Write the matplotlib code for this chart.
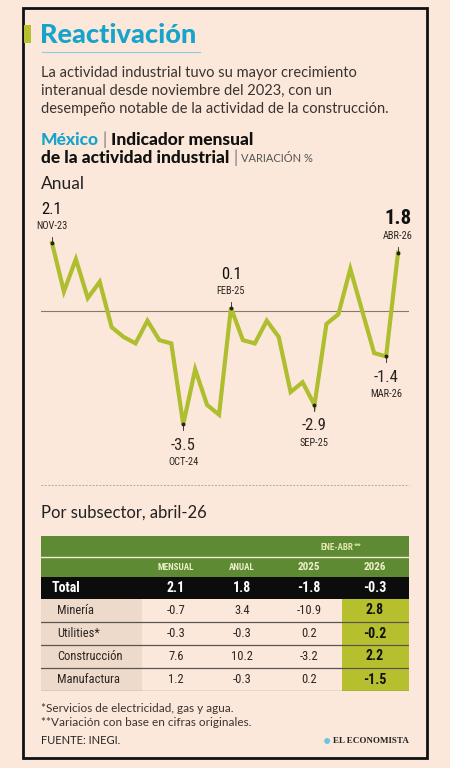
import matplotlib
matplotlib.use('Agg')
import matplotlib.pyplot as plt
import matplotlib.font_manager as fm
from matplotlib.patches import Rectangle, Ellipse
from matplotlib.lines import Line2D

# datos: variación anual, nov-23 a abr-26
meses = ['NOV-23', 'DIC-23',
         'ENE-24', 'FEB-24', 'MAR-24', 'ABR-24', 'MAY-24', 'JUN-24',
         'JUL-24', 'AGO-24', 'SEP-24', 'OCT-24', 'NOV-24', 'DIC-24',
         'ENE-25', 'FEB-25', 'MAR-25', 'ABR-25', 'MAY-25', 'JUN-25',
         'JUL-25', 'AGO-25', 'SEP-25', 'OCT-25', 'NOV-25', 'DIC-25',
         'ENE-26', 'FEB-26', 'MAR-26', 'ABR-26']
anual = [2.1, 0.6,
         1.6, 0.4, 0.9, -0.5, -0.8, -1.0, -0.3, -0.9, -1.0, -3.5, -1.8, -2.9,
         -3.2, 0.1, -0.9, -1.0, -0.3, -0.8, -2.5, -2.2, -2.9, -0.4, -0.1, 1.3,
         0.0, -1.3, -1.4, 1.8]
# etiquetas: (mes, arriba/abajo)
etiquetas = [('NOV-23', 'up'), ('FEB-25', 'up'), ('ABR-26', 'up'),
             ('OCT-24', 'down'), ('SEP-25', 'down'), ('MAR-26', 'down')]

sectores = ['Minería', 'Utilities*', 'Construcción', 'Manufactura']
col_mensual = [-0.7, -0.3, 7.6, 1.2]
col_anual = [3.4, -0.3, 10.2, -0.3]
col_2025 = [-10.9, 0.2, -3.2, 0.2]
col_2026 = [2.8, -0.2, 2.2, -1.5]
total = [2.1, 1.8, -1.8, -0.3]
encabezados = ['MENSUAL', 'ANUAL', '2025', '2026']

BG = '#FBE8DA'
VERDE_LINEA = '#AFBE2E'
VERDE_OSC = '#5E8A33'
VERDE_CLARO = '#B6C02F'
AZUL = '#17A3CA'
TXT = '#2B2522'

installed = {f.name for f in fm.fontManager.ttflist}
body = 'Lato' if 'Lato' in installed else 'DejaVu Sans'
narrow = next((n for n in ['Roboto Condensed', 'Liberation Sans Narrow',
                           'Open Sans Condensed', 'Noto Sans Condensed']
               if n in installed), 'Roboto')
NAR = dict(family=narrow, stretch='condensed')

W, H = 450, 768
fig = plt.figure(figsize=(W / 100, H / 100), dpi=100)
fig.patch.set_facecolor(BG)


def fx(x):
    return x / W


def fy(y):
    return 1 - y / H


def ftext(x, y, s, **kw):
    kw.setdefault('va', 'center')
    kw.setdefault('color', TXT)
    return fig.text(fx(x), fy(y), s, **kw)


# marco
fig.patches.append(Rectangle((fx(23), fy(758)), fx(404), 750 / H, transform=fig.transFigure,
                             fill=False, edgecolor='#111111', lw=2))
fig.patches.append(Rectangle((fx(24), fy(43)), fx(7), 18 / H, transform=fig.transFigure,
                             facecolor=VERDE_CLARO, edgecolor='none'))

# titulos
ftext(40, 35, 'Reactivación', family=body, weight='black', fontsize=19.5, color=AZUL)
fig.lines.append(Line2D([fx(42), fx(200)], [fy(52), fy(52)], transform=fig.transFigure,
                        color='#8CCBE0', lw=0.8))
sub = ['La actividad industrial tuvo su mayor crecimiento',
       'interanual desde noviembre del 2023, con un',
       'desempeño notable de la actividad de la construcción.']
for i, s in enumerate(sub):
    ftext(41, 73 + i * 18, s, family=body, fontsize=10.5, color='#3A3330')

t = ftext(41, 140, 'México', family=body, weight='black', fontsize=12.5, color=AZUL)
fig.canvas.draw()
r = fig.canvas.get_renderer()
bb = t.get_window_extent(r)
ftext(bb.x1 + 4, 140, '|', family=body, fontsize=12, color='#777777')
ftext(bb.x1 + 12, 140, 'Indicador mensual', family=body, weight='black', fontsize=12.5,
      color='#111111')
t2 = ftext(41, 158, 'de la actividad industrial', family=body, weight='black', fontsize=12.5,
           color='#111111')
bb2 = t2.get_window_extent(r)
ftext(bb2.x1 + 4, 158, '|', family=body, fontsize=12, color='#777777')
ftext(bb2.x1 + 12, 159, 'VARIACIÓN %', family=body, fontsize=8, color='#555555')
ftext(41, 184, 'Anual', family=body, fontsize=12.5, color='#222222')

# grafica de linea
ax = fig.add_axes([fx(41), fy(450), fx(409) - fx(41), (450 - 195) / H])
ax.set_facecolor('none')
x = list(range(len(anual)))
ax.plot(x, anual, color=VERDE_LINEA, lw=3, solid_joinstyle='miter', zorder=3)
ax.axhline(0, color='#8B7866', lw=0.8, zorder=2)
ax.set_xlim(-0.92, 29.92)
ax.set_ylim(-4.29, 3.58)
ax.axis('off')

for mes, pos in etiquetas:
    i = meses.index(mes)
    v = anual[i]
    bold = mes == 'ABR-26'
    if pos == 'up':
        ax.plot([i, i], [v, v + 6 / 32.4], color='#222222', lw=0.6, zorder=4)
        ax.annotate(mes, (i, v), xytext=(0, 17), textcoords='offset pixels',
                    ha='center', va='center', fontsize=7.5, color=TXT, **NAR)
        ax.annotate(f'{v:.1f}', (i, v), xytext=(0, 34 if bold else 33), textcoords='offset pixels',
                    ha='center', va='center', fontsize=15 if bold else 12,
                    weight='bold' if bold else 'normal', color='#111111', **NAR)
    else:
        ax.plot([i, i], [v, v - 6 / 32.4], color='#222222', lw=0.6, zorder=4)
        ax.annotate(f'{v:.1f}', (i, v), xytext=(0, -21), textcoords='offset pixels',
                    ha='center', va='center', fontsize=12, color=TXT, **NAR)
        ax.annotate(mes, (i, v), xytext=(0, -38), textcoords='offset pixels',
                    ha='center', va='center', fontsize=7.5, color=TXT, **NAR)
    ax.plot(i, v, 'o', ms=1.8, color='#222222', zorder=5)

fig.lines.append(Line2D([fx(41), fx(409)], [fy(485), fy(485)], transform=fig.transFigure,
                        color='#AAAAAA', lw=0.7, ls=(0, (2, 1.5))))

ftext(41, 513, 'Por subsector, abril-26', family=body, fontsize=12, color='#222222')

# tabla
tx = fig.add_axes([fx(41), fy(691), fx(409) - fx(41), (691 - 536) / H])
tx.set_xlim(41, 409)
tx.set_ylim(691, 536)
tx.axis('off')
col_x = [176, 242, 309, 375]
tx.add_patch(Rectangle((41, 536), 368, 41, facecolor=VERDE_OSC, edgecolor='none'))
tx.plot([41, 409], [557, 557], color='#F3EBD0', lw=1)
tx.text(353, 548, 'ENE-ABR', ha='right', va='center', fontsize=6.5, weight='bold',
        color='#E2E6B0', **NAR)
tx.text(354, 545, '**', ha='left', va='center', fontsize=6, weight='bold', color='#E2E6B0', **NAR)
for cx, h in zip(col_x, encabezados):
    big = h.isdigit()
    tx.text(cx, 567, h, ha='center', va='center', fontsize=8 if big else 6.5, weight='bold',
            color='#EDEFC8', **NAR)

tx.add_patch(Rectangle((41, 577), 368, 22, facecolor='#0C0C0C', edgecolor='none'))
tx.text(52, 588, 'Total', ha='left', va='center', fontsize=10, weight='bold', color='white', **NAR)
for cx, v in zip(col_x, total):
    tx.text(cx, 588, f'{v:.1f}', ha='center', va='center', fontsize=10, weight='bold',
            color='white', **NAR)

filas = list(zip(sectores, col_mensual, col_anual, col_2025, col_2026))
for k, (nom, m, a, y25, y26) in enumerate(filas):
    y0 = 599 + k * 23
    yc = y0 + 11.5
    tx.add_patch(Rectangle((41, y0), 101, 23, facecolor='#EEDACA', edgecolor='none'))
    tx.add_patch(Rectangle((342, y0), 67, 23, facecolor=VERDE_CLARO, edgecolor='none'))
    tx.text(57, yc, nom, ha='left', va='center', fontsize=9, color=TXT, **NAR)
    for cx, v in zip(col_x[:3], [m, a, y25]):
        tx.text(cx, yc, f'{v:.1f}', ha='center', va='center', fontsize=9, color=TXT, **NAR)
    tx.text(col_x[3], yc, f'{y26:.1f}', ha='center', va='center', fontsize=10, weight='bold',
            color='#111111', **NAR)
    tx.plot([41, 409], [y0 + 23, y0 + 23], color='#5A5550', lw=0.9)

# notas
ftext(41, 708, '*Servicios de electricidad, gas y agua.', family=body, fontsize=8.5, color='#3A3330')
ftext(41, 723, '**Variación con base en cifras originales.', family=body, fontsize=8.5,
      color='#3A3330')
ftext(41, 741, 'FUENTE: INEGI.', family=body, fontsize=8, color='#222222')
logo = ftext(409, 741, 'EL ECONOMISTA', ha='right', family='Liberation Serif', weight='bold',
             fontsize=6.5, color='#222222')
lb = logo.get_window_extent(r)
fig.patches.append(Ellipse((fx(lb.x0 - 6), fy(741)), 6 / W, 6 / H, transform=fig.transFigure,
                           facecolor='#6EC6DE', edgecolor='none'))

fig.savefig('out.png', dpi=100, facecolor=BG)
